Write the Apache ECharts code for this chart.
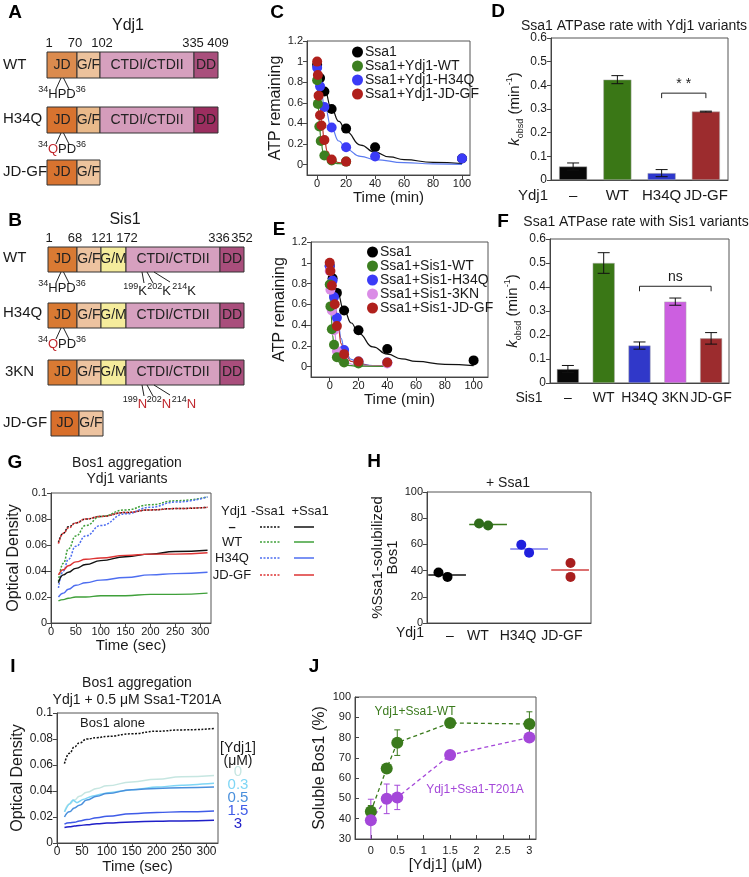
<!DOCTYPE html>
<html><head><meta charset="utf-8">
<script src="https://cdn.jsdelivr.net/npm/echarts@6/dist/echarts.min.js"></script>
<style>html,body{margin:0;padding:0;background:#fff}#c{width:749px;height:877px}</style>
</head><body><div id="c"></div>
<script>
// ================= DATA =================
// A / B domain maps
const ydj1Domains = ['JD','G/F','CTDI/CTDII','DD'];
const ydj1Residues = ['1','70','102','335','409'];
const sis1Domains = ['JD','G/F','G/M','CTDI/CTDII','DD'];
const sis1Residues = ['1','68','121','172','336','352'];
const ydj1Variants = ['WT','H34Q','JD-GF'];
const sis1Variants = ['WT','H34Q','3KN','JD-GF'];

// C : ATP remaining, Ydj1 variants (points)
const cNames = ['Ssa1','Ssa1+Ydj1-WT','Ssa1+Ydj1-H34Q','Ssa1+Ydj1-JD-GF'];
const cSsa1T = [0,2,5,10,20,40,100];        const cSsa1Y = [0.97,0.84,0.71,0.54,0.35,0.17,0.06];
const cWTT   = [0,0.5,1.5,2.5,5,10,20];     const cWTY   = [0.82,0.59,0.37,0.23,0.09,0.04,0.03];
const cH34QT = [0,2,5,10,20,40,100];        const cH34QY = [0.94,0.76,0.56,0.36,0.17,0.08,0.06];
const cJDGFT = [0,0.5,1,2,3,5,10,20];       const cJDGFY = [1.0,0.87,0.67,0.48,0.38,0.24,0.05,0.03];
// C : fitted curves
const cFitSsa1T = [0,5,10,15,20,30,40,50,60,80,100];    const cFitSsa1Y = [0.97,0.73,0.54,0.42,0.32,0.19,0.12,0.075,0.05,0.022,0.01];
const cFitWTT   = [0,0.5,1,1.5,2.5,4,6,10,15,20];       const cFitWTY   = [0.83,0.65,0.52,0.41,0.26,0.13,0.06,0.02,0.01,0.005];
const cFitH34QT = [0,2,5,10,15,20,30,40,60,80,100];     const cFitH34QY = [0.96,0.78,0.58,0.35,0.23,0.15,0.08,0.05,0.02,0.008,0.003];
const cFitJDGFT = [0,1,2,3,5,7,10,15,20];               const cFitJDGFY = [1.0,0.75,0.56,0.42,0.24,0.13,0.06,0.02,0.01];

// E : ATP remaining, Sis1 variants
const eNames = ['Ssa1','Ssa1+Sis1-WT','Ssa1+Sis1-H34Q','Ssa1+Sis1-3KN','Ssa1+Sis1-JD-GF'];
const eSsa1T = [0,2,5,10,20,40,100];        const eSsa1Y = [0.97,0.85,0.71,0.54,0.35,0.17,0.06];
const eWTT   = [0,0.5,1.5,3,5,10,20];       const eWTY   = [0.79,0.58,0.36,0.21,0.09,0.04,0.03];
const eH34QT = [0,2,3,5,10,20,40];          const eH34QY = [0.97,0.83,0.67,0.47,0.16,0.05,0.04];
const e3KNT  = [0,0.5,1.5,3,5,10,20,40];    const e3KNY  = [0.92,0.74,0.54,0.35,0.15,0.05,0.04,0.03];
const eJDGFT = [0,0.5,1.5,3.5,5,10,20,40];  const eJDGFY = [1.0,0.92,0.78,0.60,0.39,0.12,0.05,0.04];
const eFitSsa1T = [0,5,10,15,20,30,40,50,60,80,100];    const eFitSsa1Y = [0.97,0.73,0.54,0.42,0.32,0.19,0.12,0.075,0.05,0.022,0.01];
const eFitWTT   = [0,0.5,1,2,3,5,7,10,20,40];           const eFitWTY   = [0.8,0.62,0.49,0.3,0.19,0.08,0.035,0.015,0.005,0.003];
const eFitH34QT = [0,2,4,6,8,10,15,20,30,40];           const eFitH34QY = [0.97,0.78,0.58,0.4,0.27,0.17,0.07,0.03,0.01,0.005];
const eFit3KNT  = [0,1,2,3,5,7,10,20,40];               const eFit3KNY  = [0.93,0.72,0.54,0.38,0.18,0.09,0.04,0.01,0.005];
const eFitJDGFT = [0,2,4,6,8,10,15,20,30,40];           const eFitJDGFY = [1.0,0.8,0.55,0.36,0.22,0.14,0.05,0.02,0.01,0.01];

// D : kobsd Ydj1 variants
const dCats = ['–','WT','H34Q','JD-GF'];
const dVals = [0.057,0.424,0.029,0.289];
const dErr  = [0.015,0.017,0.015,0.002];
const dSig  = [[2,3,0.367]]; const dSigText = ['* *'];
// F : kobsd Sis1 variants
const fCats = ['–','WT','H34Q','3KN','JD-GF'];
const fVals = [0.058,0.5,0.156,0.339,0.186];
const fErr  = [0.015,0.043,0.015,0.015,0.024];
const fSig  = [[2,4,0.403]]; const fSigText = ['ns'];

// G : Bos1 aggregation, Ydj1 variants
const gRows = ['–','WT','H34Q','JD-GF'];
const gT = [15,25,35,50,70,100,150,200,250,315];
const gNoSsa1 = {
  '–':     [0.062,0.069,0.074,0.077,0.080,0.082,0.085,0.087,0.088,0.089],
  'WT':    [0.032,0.046,0.057,0.067,0.075,0.082,0.087,0.091,0.094,0.097],
  'H34Q':  [0.027,0.040,0.049,0.059,0.067,0.075,0.084,0.089,0.093,0.097],
  'JD-GF': [0.061,0.069,0.073,0.077,0.080,0.082,0.085,0.087,0.088,0.089]
};
const gSsa1 = {
  '–':     [0.031,0.037,0.039,0.042,0.045,0.048,0.051,0.053,0.055,0.056],
  'WT':    [0.017,0.018,0.019,0.020,0.020,0.021,0.021,0.022,0.022,0.023],
  'H34Q':  [0.020,0.023,0.026,0.029,0.031,0.033,0.035,0.037,0.038,0.039],
  'JD-GF': [0.037,0.041,0.044,0.047,0.049,0.050,0.052,0.053,0.053,0.054]
};

// H : % Ssa1-solubilized Bos1
const hCats = ['–','WT','H34Q','JD-GF'];
const hMinusX = [0.28,0.5];  const hMinusY = [38.5,35.2];
const hWTX    = [1.27,1.49]; const hWTY    = [75.9,74.4];
const hH34QX  = [2.3,2.49];  const hH34QY  = [59.7,53.7];
const hJDGFX  = [3.5,3.5];   const hJDGFY  = [45.8,35.2];
const hMeans  = [36.7,75.2,56.5,40.5];

// I : Bos1 aggregation with Ssa1-T201A
const iConc = ['0','0.3','0.5','1.5','3'];
const iT = [15,25,35,45,60,80,100,150,200,250,315];
const iBos1Alone = [0.061,0.069,0.074,0.077,0.080,0.081,0.082,0.084,0.086,0.087,0.088];
const iY0   = [0.024,0.030,0.033,0.036,0.039,0.042,0.044,0.047,0.049,0.051,0.052];
const iT03  = [15,25,32,40,52,70,100,150,200,250,315];
const iY03  = [0.024,0.030,0.033,0.031,0.0335,0.036,0.0385,0.041,0.043,0.0445,0.046];
const iY05  = [0.020,0.024,0.027,0.029,0.033,0.036,0.038,0.041,0.042,0.0425,0.043];
const iY15  = [0.0145,0.0155,0.016,0.017,0.018,0.0195,0.0205,0.0225,0.0235,0.024,0.0247];
const iY3   = [0.012,0.0125,0.013,0.0135,0.014,0.0148,0.0153,0.0162,0.0167,0.017,0.0175];

// J : Soluble Bos1 vs [Ydj1]
const jX = [0,0.3,0.5,1.5,3];
const jWT = [43.5,64.8,77.5,87.2,86.7];      const jWTErr = [3,0,6.3,0,6];
const jT201A = [39.3,49.8,50.5,71.4,80];     const jT201AErr = [10.3,7.3,6,0,0];

// ================= HELPERS =================
const FF = '"Liberation Sans", Arial, Helvetica, sans-serif';
const font = (s, b) => (b ? 'bold ' : '') + s + 'px ' + FF;
const zip = (a, b) => a.map((v, i) => [v, b[i]]);
const INK = '#1a1a1a';

function T(x, y, text, size, o) {
  o = o || {};
  return {type:'text', x:x, y:y, z:100, silent:true, rotation:o.rot || 0,
    style:{text:text, font:font(size, o.bold), fill:o.color || INK,
      textAlign:o.align || 'center', textVerticalAlign:o.va || 'middle', rich:o.rich}};
}
function L(x1, y1, x2, y2, o) {
  o = o || {};
  return {type:'line', z:100, silent:true, shape:{x1, y1, x2, y2},
    style:{stroke:o.color || '#222', lineWidth:o.w || 1, lineDash:o.dash || null}};
}

function valAxis(gi, min, max, ticks, o) {
  o = o || {};
  return {
    type:'value', gridIndex:gi, min:min, max:max,
    name:o.name, nameLocation:'middle', nameGap:o.gap,
    nameTextStyle:{fontSize:o.nameSize || 15, color:INK, fontFamily:FF, rich:o.rich},
    axisLine:{show:true, onZero:false, lineStyle:{color:'#444'}},
    axisTick:{show:true, inside:!!o.inside, length:4, customValues:ticks, lineStyle:{color:'#444'}},
    axisLabel:{show:o.labels !== false, customValues:ticks, fontSize:o.fs || 11, color:INK, fontFamily:FF, margin:o.margin || 4,
      formatter:o.fmt, hideOverlap:false},
    splitLine:{show:false}
  };
}
function catAxis(gi, cats, fs) {
  return {type:'category', gridIndex:gi, data:cats,
    axisLine:{show:true, lineStyle:{color:'#444'}}, axisTick:{show:false},
    axisLabel:{interval:0, fontSize:fs, color:INK, fontFamily:FF, margin:8, hideOverlap:false}, splitLine:{show:false}};
}
function scatter(ax, name, xs, ys, color, size) {
  return {type:'scatter', name:name, xAxisIndex:ax, yAxisIndex:ax, data:zip(xs, ys),
    symbol:'circle', symbolSize:size || 10, itemStyle:{color:color, opacity:1}, z:5};
}
function curve(ax, xs, ys, color, o) {
  o = o || {};
  return {type:'line', xAxisIndex:ax, yAxisIndex:ax, data:zip(xs, ys), smooth:o.smooth === undefined ? 0.5 : o.smooth,
    smoothMonotone:'x', showSymbol:false, symbol:'none', silent:true, z:o.z || 3,
    lineStyle:{color:color, width:o.w || 1.2, type:o.dash || 'solid'}};
}
function errSeries(ax, xs, vals, errs, color, cap) {
  return {type:'custom', xAxisIndex:ax, yAxisIndex:ax, silent:true, z:4,
    data:vals.map((v, i) => [xs[i], v, errs[i]]),
    renderItem:function(params, api) {
      const x = api.value(0), v = api.value(1), e = api.value(2);
      if (!e) return null;
      const cs = params.coordSys;
      const p1 = api.coord([x, v + e]), p2 = api.coord([x, v - e]);
      const top = Math.max(p1[1], cs.y), bot = Math.min(p2[1], cs.y + cs.height);
      const st = {stroke:color, lineWidth:1};
      const ch = [{type:'line', shape:{x1:p1[0], y1:top, x2:p1[0], y2:bot}, style:st}];
      if (p1[1] >= cs.y) ch.push({type:'line', shape:{x1:p1[0]-cap, y1:p1[1], x2:p1[0]+cap, y2:p1[1]}, style:st});
      if (p2[1] <= cs.y + cs.height) ch.push({type:'line', shape:{x1:p2[0]-cap, y1:p2[1], x2:p2[0]+cap, y2:p2[1]}, style:st});
      return {type:'group', children:ch};
    }};
}
function bracketSeries(ax, data, labels) {
  return {type:'custom', xAxisIndex:ax, yAxisIndex:ax, silent:true, z:6, data:data,
    renderItem:function(params, api) {
      const a = api.coord([api.value(0), api.value(2)]);
      const b = api.coord([api.value(1), api.value(2)]);
      return {type:'group', children:[
        {type:'polyline', shape:{points:[[a[0], a[1]+5], [a[0], a[1]], [b[0], b[1]], [b[0], b[1]+5]]},
          style:{stroke:'#222', fill:null, lineWidth:1}},
        {type:'text', x:(a[0]+b[0])/2, y:a[1]-2,
          style:{text:labels[params.dataIndex], font:font(14), fill:INK, align:'center', verticalAlign:'bottom',
            textAlign:'center', textVerticalAlign:'bottom'}}
      ]};
    }};
}

// ================= GRAPHICS (diagrams, labels) =================
const G = [];
[['A',15,13],['B',15,221],['C',277,13],['D',498,12],['E',279,230],['F',503,222],['G',15,463],['H',374,462],['I',13,667],['J',314,667]]
  .forEach(p => G.push(T(p[1], p[2], p[0], 19, {bold:true, color:'#000'})));

function protein(edges, yTop, h, labels, colors) {
  for (let i = 0; i < edges.length - 1; i++) {
    G.push({type:'rect', z:90, silent:true, shape:{x:edges[i], y:yTop, width:edges[i+1]-edges[i], height:h},
      style:{fill:colors[i], stroke:'#333', lineWidth:1}});
    G.push(T((edges[i]+edges[i+1])/2, yTop + h/2, labels[i], 14, {color:'#222'}));
  }
}
const supRich = {s:{fontSize:9, verticalAlign:'top', lineHeight:18, fontFamily:FF, fill:INK},
  m:{fontSize:13, lineHeight:18, fontFamily:FF, fill:INK},
  r:{fontSize:13, lineHeight:18, fontFamily:FF, fill:'#C0272D'}};
function motif(xc, yBox, text) {
  G.push(L(xc-1, yBox, xc-6, yBox+11));
  G.push(L(xc+1.5, yBox, xc+7, yBox+11));
  G.push(T(xc, yBox+16, text, 13, {rich:supRich}));
}

// --- A: Ydj1
const aEdges = [47,77,100,194,218];
G.push(T(128, 26, 'Ydj1', 16));
[49,75,102,193,218].forEach((x, i) => G.push(T(x, 43, ydj1Residues[i], 13)));
G.push(T(3, 65, ydj1Variants[0], 15, {align:'left'}));
G.push(T(3, 119, ydj1Variants[1], 15, {align:'left'}));
G.push(T(3, 172, ydj1Variants[2], 15, {align:'left'}));
protein(aEdges, 52, 26, ydj1Domains, ['#DB8B4E','#ECC29C','#D6A0BE','#A94F7C']);
protein(aEdges, 107, 26, ydj1Domains, ['#D8732F','#E9B98A','#D49CBB','#9B2E5F']);
protein(aEdges.slice(0,3), 160, 25, ydj1Domains.slice(0,2), ['#D8732F','#EDC39D']);
motif(62, 78, '{s|34}{m|HPD}{s|36}');
motif(62, 133, '{s|34}{r|Q}{m|PD}{s|36}');

// --- B: Sis1
const bEdges = [48,77,101,126,220,244];
G.push(T(125, 220, 'Sis1', 16));
[49,75,102,127,219,242].forEach((x, i) => G.push(T(x, 238, sis1Residues[i], 13)));
G.push(T(3, 258, sis1Variants[0], 15, {align:'left'}));
G.push(T(3, 313, sis1Variants[1], 15, {align:'left'}));
G.push(T(5, 372, sis1Variants[2], 15, {align:'left'}));
G.push(T(3, 423, sis1Variants[3], 15, {align:'left'}));
const bCols = ['#D97A33','#EDC3A0','#F5EC9C','#D6A0BF','#A94E7C'];
protein(bEdges, 247, 25, sis1Domains, bCols);
protein(bEdges, 303, 25, sis1Domains, bCols);
protein(bEdges, 360, 25, sis1Domains, bCols);
protein([51,79,103], 411, 25, sis1Domains.slice(0,2), ['#D86F2B','#EDC3A0']);
motif(62, 272, '{s|34}{m|HPD}{s|36}');
motif(62, 328, '{s|34}{r|Q}{m|PD}{s|36}');
function kLines(yBox, letter, red) {
  G.push(L(142, yBox, 144, yBox+11));
  G.push(L(147, yBox, 153, yBox+11));
  G.push(L(154, yBox, 170, yBox+10));
  const st = red ? 'r' : 'm';
  G.push(T(135, yBox+19, '{s|199}{' + st + '|' + letter + '}', 13, {rich:supRich}));
  G.push(T(159, yBox+19, '{s|202}{' + st + '|' + letter + '}', 13, {rich:supRich}));
  G.push(T(184, yBox+19, '{s|214}{' + st + '|' + letter + '}', 13, {rich:supRich}));
}
kLines(272, 'K', false);
kLines(385, 'N', true);

// titles & row labels
G.push(T(634, 26, 'Ssa1 ATPase rate with Ydj1 variants', 14));
G.push(T(636, 222, 'Ssa1 ATPase rate with Sis1 variants', 14));
G.push(T(533, 196, 'Ydj1', 15));
G.push(T(529, 398, 'Sis1', 14));
G.push(T(127, 463, 'Bos1 aggregation', 14));
G.push(T(127, 479, 'Ydj1 variants', 14));
G.push(T(508, 483, '+ Ssa1', 14));
G.push(T(410, 633, 'Ydj1', 14));
G.push(T(137, 683, 'Bos1 aggregation', 14));
G.push(T(137, 700, 'Ydj1 + 0.5 μM Ssa1-T201A', 14));
G.push(T(80, 723, 'Bos1 alone', 13, {align:'left'}));

// G legend table
const gColors = {'–':'#111111','WT':'#3FA03A','H34Q':'#4E6EF0','JD-GF':'#DD3333'};
G.push(T(234, 511, 'Ydj1', 13));
G.push(T(268, 511, '-Ssa1', 13));
G.push(T(310, 511, '+Ssa1', 13));
const gRowY = [527,542,558,575];
gRows.forEach((r, i) => {
  G.push(T(232, gRowY[i], r, 13, {bold:r === '–'}));
  G.push(L(260, gRowY[i], 281, gRowY[i], {color:gColors[r], w:1.5, dash:[2,1.5]}));
  G.push(L(294, gRowY[i], 314, gRowY[i], {color:gColors[r], w:1.5}));
});

// I legend
const iColors = ['#C6E6E1','#7FD6F5','#4A90DC','#3F5CE8','#1F1FC8'];
G.push(T(238, 748, '[Ydj1]', 14));
G.push(T(238, 761, '(μM)', 14));
iConc.forEach((c, i) => G.push(T(238, 772 + i*13, c, 15, {color:iColors[i]})));

// J labels
G.push(T(415, 712, 'Ydj1+Ssa1-WT', 12, {color:'#3A7A1C'}));
G.push(T(475, 790, 'Ydj1+Ssa1-T201A', 12, {color:'#A447D9'}));

// ================= OPTION =================
const gridBase = {show:true, borderColor:'#555', borderWidth:1, backgroundColor:'transparent', containLabel:false};
const kRich = {
  k:{fontStyle:'italic', fontSize:15, lineHeight:20, fontFamily:FF, color:INK},
  sub:{fontSize:9, verticalAlign:'bottom', lineHeight:20, fontFamily:FF, color:INK},
  t:{fontSize:15, lineHeight:20, fontFamily:FF, color:INK},
  sup:{fontSize:9, verticalAlign:'top', lineHeight:20, fontFamily:FF, color:INK}
};
const kName = '{k|k}{sub|obsd}{t| (min}{sup|-1}{t|)}';
const ticksATP = [0,0.2,0.4,0.6,0.8,1,1.2];
const ticksMin = [0,20,40,60,80,100];
const ticksK = [0,0.1,0.2,0.3,0.4,0.5,0.6];
const ticksOD = [0,0.02,0.04,0.06,0.08,0.1];
const ticksSec = [0,50,100,150,200,250,300];
const hLabelPos = [0.56,1.24,2.22,3.29];

const option = {
  animation:false,
  backgroundColor:'#fff',
  textStyle:{fontFamily:FF},
  grid:[
    Object.assign({left:307, top:41, width:163, height:134}, gridBase),  // C
    Object.assign({left:551, top:38, width:177, height:142}, gridBase),  // D
    Object.assign({left:311, top:242, width:177, height:135}, gridBase), // E
    Object.assign({left:550, top:239, width:179, height:144}, gridBase), // F
    Object.assign({left:51, top:493, width:160, height:130}, gridBase),  // G
    Object.assign({left:427, top:492, width:164, height:131}, gridBase), // H
    Object.assign({left:57, top:713, width:161, height:130}, gridBase),  // I
    Object.assign({left:355, top:697, width:181, height:142}, gridBase)  // J
  ],
  xAxis:[
    valAxis(0, -7, 105.5, ticksMin, {name:'Time (min)', gap:10, margin:3}),
    catAxis(1, dCats, 15),
    valAxis(2, -13, 110, ticksMin, {name:'Time (min)', gap:11, margin:3}),
    catAxis(3, fCats, 14),
    valAxis(4, 0, 322, ticksSec, {name:'Time (sec)', gap:12, margin:3}),
    Object.assign(valAxis(5, 0, 4, hLabelPos, {margin:6, fs:14,
      fmt:function(v){ let k = 0; hLabelPos.forEach((p, i) => { if (Math.abs(p - v) < 1e-6) k = i; }); return hCats[k]; }}),
      {axisTick:{show:false}}),
    valAxis(6, 0, 323, ticksSec, {name:'Time (sec)', gap:15, margin:3, fs:12}),
    valAxis(7, -0.3, 3.125, [0,0.5,1,1.5,2,2.5,3], {name:'[Ydj1] (μM)', gap:17, margin:6, inside:true})
  ],
  yAxis:[
    valAxis(0, -0.1, 1.2, ticksATP, {name:'ATP remaining', gap:21, nameSize:16}),
    valAxis(1, 0, 0.6, ticksK, {name:kName, gap:26, rich:kRich, fs:12}),
    valAxis(2, -0.1, 1.2, ticksATP, {name:'ATP remaining', gap:16, nameSize:16}),
    valAxis(3, 0, 0.6, ticksK, {name:kName, gap:27, rich:kRich, fs:12}),
    valAxis(4, 0, 0.1, ticksOD, {name:'Optical Density', gap:27, nameSize:16}),
    valAxis(5, 0, 100, [0,20,40,60,80,100], {name:'%Ssa1-solubilized\nBos1', gap:22}),
    valAxis(6, 0, 0.1, ticksOD, {name:'Optical Density', gap:28, nameSize:16, fs:12}),
    valAxis(7, 30, 100, [30,40,50,60,70,80,90,100], {name:'Soluble Bos1 (%)', gap:27, nameSize:16, inside:true})
  ],
  legend:[
    {data:cNames, left:352, top:45, orient:'vertical', itemGap:0, itemWidth:11, itemHeight:11, icon:'circle',
      padding:0, selectedMode:false, textStyle:{fontSize:14, color:INK, fontFamily:FF, padding:[0,0,0,-3]}},
    {data:eNames, left:367, top:245, orient:'vertical', itemGap:0, itemWidth:11, itemHeight:11, icon:'circle',
      padding:0, selectedMode:false, textStyle:{fontSize:14, color:INK, fontFamily:FF, padding:[0,0,0,-3]}}
  ],
  series:[
    // ---- C
    curve(0, cFitSsa1T, cFitSsa1Y, '#111'),
    curve(0, cFitH34QT, cFitH34QY, '#5B7BF0'),
    curve(0, cFitJDGFT, cFitJDGFY, '#C0302A'),
    curve(0, cFitWTT, cFitWTY, '#3C8A2A'),
    scatter(0, cNames[0], cSsa1T, cSsa1Y, '#000000'),
    scatter(0, cNames[2], cH34QT, cH34QY, '#3B3BF7'),
    scatter(0, cNames[1], cWTT, cWTY, '#3C7F20'),
    scatter(0, cNames[3], cJDGFT, cJDGFY, '#B0201C'),
    // ---- D
    {type:'bar', xAxisIndex:1, yAxisIndex:1, barWidth:28, silent:true,
      data:dVals.map((v, i) => ({value:v, itemStyle:{color:['#080808','#3A7716','#2D37CC','#9C2C2E'][i], borderColor:'#aaa', borderWidth:0.5}}))},
    errSeries(1, [0,1,2,3], dVals, dErr, '#111', 6),
    bracketSeries(1, dSig, dSigText),
    // ---- E
    curve(2, eFitSsa1T, eFitSsa1Y, '#111'),
    curve(2, eFitH34QT, eFitH34QY, '#5B7BF0'),
    curve(2, eFitJDGFT, eFitJDGFY, '#C0302A'),
    curve(2, eFit3KNT, eFit3KNY, '#D98BE3'),
    curve(2, eFitWTT, eFitWTY, '#3C8A2A'),
    scatter(2, eNames[0], eSsa1T, eSsa1Y, '#000000'),
    scatter(2, eNames[2], eH34QT, eH34QY, '#3B3BF7'),
    scatter(2, eNames[3], e3KNT, e3KNY, '#DA8CE6'),
    scatter(2, eNames[1], eWTT, eWTY, '#3C7F20'),
    scatter(2, eNames[4], eJDGFT, eJDGFY, '#B0201C'),
    // ---- F
    {type:'bar', xAxisIndex:3, yAxisIndex:3, barWidth:22, silent:true,
      data:fVals.map((v, i) => ({value:v, itemStyle:{color:['#080808','#3A7716','#3038C9','#CC5FE0','#9C2C2E'][i], borderColor:'#aaa', borderWidth:0.5}}))},
    errSeries(3, [0,1,2,3,4], fVals, fErr, '#111', 6),
    bracketSeries(3, fSig, fSigText),
    // ---- G
    ...gRows.map(r => curve(4, gT, gNoSsa1[r], gColors[r], {dash:[2,1.5], w:1.5})),
    ...gRows.map(r => curve(4, gT, gSsa1[r], gColors[r], {w:1.4})),
    // ---- H
    {type:'custom', xAxisIndex:5, yAxisIndex:5, silent:true, z:3,
      data:hMeans.map((m, i) => [i, m]),
      renderItem:function(params, api) {
        const i = api.value(0), m = api.value(1);
        const a = api.coord([i + 0.03, m]), b = api.coord([i + 0.95, m]);
        return {type:'line', shape:{x1:a[0], y1:a[1], x2:b[0], y2:b[1]},
          style:{stroke:['#111','#3A7A1C','#7777EE','#D04040'][params.dataIndex], lineWidth:1.5}};
      }},
    scatter(5, 'h-', hMinusX, hMinusY, '#000', 10),
    scatter(5, 'hWT', hWTX, hWTY, '#2F6B1A', 10),
    scatter(5, 'hH34Q', hH34QX, hH34QY, '#2020DD', 10),
    scatter(5, 'hJDGF', hJDGFX, hJDGFY, '#A81E1E', 10),
    // ---- I
    curve(6, iT, iBos1Alone, '#111', {dash:[2,1.5], w:1.5}),
    curve(6, iT, iY0, iColors[0], {w:1.5}),
    curve(6, iT03, iY03, iColors[1], {w:1.5, smooth:0.2}),
    curve(6, iT, iY05, iColors[2], {w:1.5}),
    curve(6, iT, iY15, iColors[3], {w:1.5}),
    curve(6, iT, iY3, iColors[4], {w:1.5}),
    // ---- J
    errSeries(7, jX, jWT, jWTErr, '#3A7A1C', 3),
    errSeries(7, jX, jT201A, jT201AErr, '#A447D9', 3),
    {type:'line', name:'Ydj1+Ssa1-WT', xAxisIndex:7, yAxisIndex:7, data:zip(jX, jWT), symbol:'circle', symbolSize:12,
      itemStyle:{color:'#3A7A1C'}, lineStyle:{color:'#3A7A1C', type:[4,3], width:1.3}, silent:true, z:5},
    {type:'line', name:'Ydj1+Ssa1-T201A', xAxisIndex:7, yAxisIndex:7, data:zip(jX, jT201A), symbol:'circle', symbolSize:12,
      itemStyle:{color:'#A447D9'}, lineStyle:{color:'#A447D9', type:[4,3], width:1.3}, silent:true, z:5}
  ],
  graphic:{elements:G}
};

const chart = echarts.init(document.getElementById('c'), null, {renderer:'canvas'});
chart.setOption(option);
</script>
</body></html>
